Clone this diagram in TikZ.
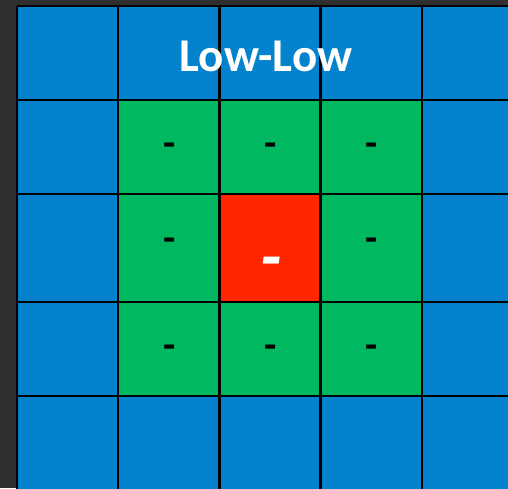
\documentclass[tikz,border=0pt]{standalone}
\usepackage{fontspec}
\setmainfont{Carlito}
\definecolor{bgdark}{HTML}{2F2F2F}
\definecolor{cellblue}{HTML}{0382CE}
\definecolor{cellgreen}{HTML}{00B860}
\definecolor{cellred}{HTML}{FF2600}
\begin{document}
\begin{tikzpicture}[x=1pt,y=-1pt,
  gridline/.style={black,line width=2.6pt},
  mark minus/.style={font=\fontsize{40}{40}\selectfont\bfseries,text=black,inner sep=0pt,anchor=base},
  centre minus/.style={font=\fontsize{70}{70}\selectfont\bfseries\itshape,text=white,inner sep=0pt,anchor=base},
  title/.style={font=\fontsize{47}{47}\selectfont\bfseries,text=white,inner sep=0pt}]
\useasboundingbox (0,0) rectangle (508,488);
\clip (0,0) rectangle (508,488);
\fill[bgdark] (0,0) rectangle (508,488);
% blue base
\fill[cellblue] (17,6) rectangle (530,510);
% green ring
\fill[cellgreen] (118,100) rectangle (422,396);
% red centre
\fill[cellred] (219.5,194) rectangle (320.5,302);
% grid lines
\foreach \x in {17,118,219.5,320.5,422} \draw[gridline] (\x,6) -- (\x,520);
\foreach \y in {6,100,194,302,396} \draw[gridline] (17,\y) -- (530,\y);
% title
\node[title] (title) at (266,56) {Low-Low};
% minus marks
\node[mark minus] (m11) at (169.5,156) {-};
\node[mark minus] (m12) at (270.5,156) {-};
\node[mark minus] (m13) at (371.5,156) {-};
\node[mark minus] (m21) at (169.5,251) {-};
\node[mark minus] (m23) at (371.5,251) {-};
\node[mark minus] (m31) at (169.5,358) {-};
\node[mark minus] (m32) at (270.5,358) {-};
\node[mark minus] (m33) at (371.5,358) {-};
\node[centre minus] (mc) at (271,280) {-};
\end{tikzpicture}
\end{document}
